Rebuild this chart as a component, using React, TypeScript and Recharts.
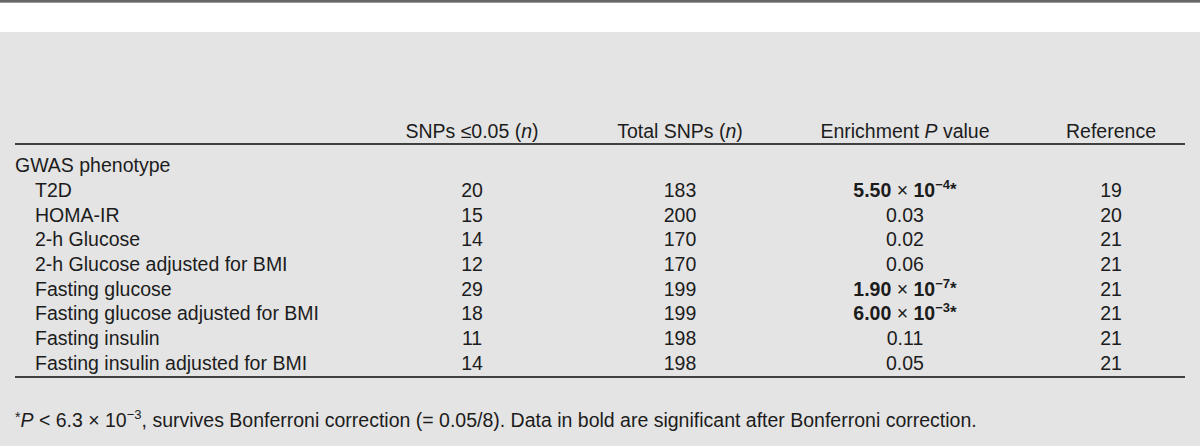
import React from "react"
import { ComposedChart, Scatter, XAxis, YAxis } from "recharts"

// table values
const groupLabel = "GWAS phenotype"
const phenotypes = [
  "T2D",
  "HOMA-IR",
  "2-h Glucose",
  "2-h Glucose adjusted for BMI",
  "Fasting glucose",
  "Fasting glucose adjusted for BMI",
  "Fasting insulin",
  "Fasting insulin adjusted for BMI",
]
const snpsSignificant = [20, 15, 14, 12, 29, 18, 11, 14]
const totalSnps = [183, 200, 170, 170, 199, 199, 198, 198]
const enrichmentP = [5.5e-4, 0.03, 0.02, 0.06, 1.9e-7, 6.0e-3, 0.11, 0.05]
const references = [19, 20, 21, 21, 21, 21, 21, 21]
const bonferroni = 0.05 / 8

// layout
const W = 1200
const H = 446
const LEFT = 15
const RIGHT = 1185
const COL_X = [472, 680, 905, 1111]
const ROW_DOMAIN = [-0.862, 8.571]
const FONT = "'Liberation Sans', Arial, Helvetica, sans-serif"
const FS = 19.5
const INK = "#1c1c1c"
const RULE = "#404040"

const rows = phenotypes.map((name, i) => ({
  row: i + 1,
  name,
  snps: snpsSignificant[i],
  total: totalSnps[i],
  p: enrichmentP[i],
  ref: references[i],
}))

const rowTicks = [0, ...rows.map((r) => r.row)]
const rowLabel = (v: number) => (v === 0 ? groupLabel : phenotypes[v - 1])

const colData = (c: number) => rows.map((r) => ({ ...r, x: COL_X[c] }))

const HeaderTick = (props: any) => {
  const { x, y, payload } = props
  const idx = COL_X.indexOf(payload.value)
  const common = { x, y, textAnchor: "middle" as const, fill: INK, fontSize: FS, fontFamily: FONT }
  if (idx === 0)
    return (
      <text {...common}>
        SNPs ≤0.05 (<tspan fontStyle="italic">n</tspan>)
      </text>
    )
  if (idx === 1)
    return (
      <text {...common}>
        Total SNPs (<tspan fontStyle="italic">n</tspan>)
      </text>
    )
  if (idx === 2)
    return (
      <text {...common}>
        Enrichment <tspan fontStyle="italic">P</tspan> value
      </text>
    )
  return <text {...common}>Reference</text>
}

const RowTick = (props: any) => {
  const { y, payload } = props
  const v = payload.value
  return (
    <text x={v === 0 ? LEFT : LEFT + 20} y={y} dy="0.355em" textAnchor="start" fill={INK} fontSize={FS} fontFamily={FONT}>
      {rowLabel(v)}
    </text>
  )
}

const cellText = (key: "snps" | "total" | "ref") => (props: any) => {
  const { cx, cy, payload } = props
  return (
    <text x={cx} y={cy} dy="0.355em" textAnchor="middle" fill={INK} fontSize={FS} fontFamily={FONT}>
      {payload[key]}
    </text>
  )
}

const PCell = (props: any) => {
  const { cx, cy, payload } = props
  const p: number = payload.p
  const common = { x: cx, y: cy, dy: "0.355em", textAnchor: "middle" as const, fill: INK, fontSize: FS, fontFamily: FONT }
  if (p >= 0.01) return <text {...common}>{p.toFixed(2)}</text>
  const exp = Math.floor(Math.log10(p))
  const mant = (p / Math.pow(10, exp)).toFixed(2)
  return (
    <text {...common}>
      <tspan fontWeight="bold">{mant}</tspan>
      <tspan> × </tspan>
      <tspan fontWeight="bold">10</tspan>
      <tspan fontWeight="bold" fontSize={13} dy={-8}>
        {"\u2212" + Math.abs(exp)}
      </tspan>
      {p < bonferroni && (
        <tspan fontSize={17} fontWeight="bold" dy={6}>
          *
        </tspan>
      )}
    </text>
  )
}

const Footnote = (props: any) => {
  const vb = props.viewBox || { x: LEFT, y: 377 }
  return (
    <text x={vb.x} y={vb.y + 50} textAnchor="start" fill={INK} fontSize={FS} fontFamily={FONT}>
      <tspan fontSize={14} dy={-5}>*</tspan>
      <tspan fontStyle="italic" dy={5}>P</tspan>
      <tspan> {"<"} 6.3 × 10</tspan>
      <tspan fontSize={13} dy={-8}>−3</tspan>
      <tspan dy={8}>, survives Bonferroni correction (= 0.05/8). Data in bold are significant after Bonferroni correction.</tspan>
    </text>
  )
}

export default function App() {
  return (
    <div style={{ position: "absolute", left: 0, top: 0, width: W, height: H, background: "#fff", overflow: "hidden" }}>
      <div style={{ position: "absolute", left: 0, top: 0, width: W, height: 2, background: "#676767" }} />
      <div style={{ position: "absolute", left: 0, top: 2, width: W, height: 1, background: "#9a9a9a" }} />
      <div style={{ position: "absolute", left: 0, top: 32, width: W, height: H - 32, background: "#e4e4e4" }} />
      <div style={{ position: "absolute", left: 0, top: 0 }}>
        <ComposedChart width={W} height={H} data={rows} margin={{ top: 32, right: W - RIGHT, bottom: 0, left: 0 }}>
          <XAxis
            xAxisId="top"
            orientation="top"
            type="number"
            dataKey="x"
            domain={[LEFT, RIGHT]}
            allowDataOverflow
            height={112}
            ticks={COL_X}
            interval={0}
            tickLine={false}
            tickSize={0}
            tickMargin={6}
            axisLine={{ stroke: RULE, strokeWidth: 2 }}
            tick={<HeaderTick />}
          />
          <XAxis
            xAxisId="bottom"
            orientation="bottom"
            type="number"
            dataKey="x"
            domain={[LEFT, RIGHT]}
            allowDataOverflow
            height={69}
            tick={false}
            tickLine={false}
            axisLine={{ stroke: RULE, strokeWidth: 2 }}
            label={{ content: Footnote }}
          />
          <YAxis
            type="number"
            dataKey="row"
            domain={ROW_DOMAIN}
            allowDataOverflow
            reversed
            width={LEFT}
            ticks={rowTicks}
            interval={0}
            axisLine={false}
            tickLine={false}
            tick={<RowTick />}
          />
          <Scatter xAxisId="top" data={colData(0)} dataKey="snps" shape={cellText("snps")} isAnimationActive={false} />
          <Scatter xAxisId="top" data={colData(1)} dataKey="total" shape={cellText("total")} isAnimationActive={false} />
          <Scatter xAxisId="top" data={colData(2)} dataKey="p" shape={<PCell />} isAnimationActive={false} />
          <Scatter xAxisId="top" data={colData(3)} dataKey="ref" shape={cellText("ref")} isAnimationActive={false} />
        </ComposedChart>
      </div>
    </div>
  )
}
